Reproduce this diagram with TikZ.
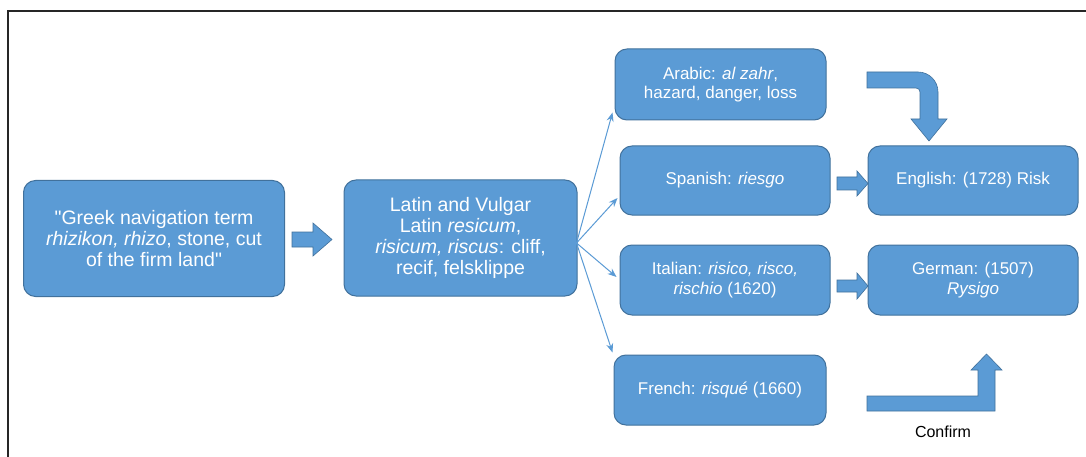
\documentclass[tikz,border=0pt]{standalone}
\usepackage{fontspec}
\setmainfont{Liberation Sans}[Ligatures=TeXOff]
\usetikzlibrary{calc,arrows.meta}
\definecolor{boxblue}{HTML}{5B9BD5}
\definecolor{boxedge}{HTML}{41719C}
\tikzset{
  termbox/.style={draw=boxedge, line width=1pt, fill=boxblue, rounded corners=12pt,
    text=white, align=center, inner sep=0pt, font=\fontsize{17}{19.5}\selectfont},
  bigbox/.style={termbox, font=\fontsize{19.5}{21}\selectfont},
  thinarrow/.style={draw=boxblue, line width=1pt, -{Stealth[length=9pt,width=7pt]}},
  blockarrow/.style={fill=boxblue, draw=boxedge, line width=0.6pt, line join=miter}
}
\begin{document}
\begin{tikzpicture}[x=1pt,y=-1pt]
\path[use as bounding box] (0,0) rectangle (1086,457);
\fill[white] (0,0) rectangle (1086,457);
\begin{scope}
\clip (0,0) rectangle (1086,457);
\draw[line width=1.3pt, black!85] (8,470) -- (8,11) -- (1100,11);
\end{scope}

% boxes
\node[bigbox, minimum width=261pt, minimum height=116pt] (gre) at (154,238.5)
  {"Greek navigation term\\ \textit{rhizikon, rhizo}, stone, cut\\ of the firm land"};
\node[bigbox, minimum width=233pt, minimum height=116pt] (lat) at (460.5,238)
  {Latin and Vulgar\\ Latin \textit{resicum},\\ \textit{risicum, riscus}: cliff,\\ recif, felsklippe};
\node[termbox, minimum width=211pt, minimum height=71pt] (ara) at (720.5,84.5)
  {Arabic: \textit{al zahr},\\ hazard, danger, loss};
\node[termbox, minimum width=210pt, minimum height=69pt] (spa) at (725,180.5)
  {Spanish: \textit{riesgo}};
\node[termbox, minimum width=210pt, minimum height=69pt] (eng) at (973,180.5)
  {English: (1728) Risk};
\node[termbox, minimum width=210pt, minimum height=70pt] (ita) at (725,280)
  {Italian: \textit{risico, risco,}\\ \textit{rischio} (1620)};
\node[termbox, minimum width=210pt, minimum height=70pt] (ger) at (973,280)
  {German: (1507)\\ \textit{Rysigo}};
\node[termbox, minimum width=212pt, minimum height=70pt] (fre) at (720,390)
  {French: \textit{risqué} (1660)};

% thin arrows from Latin box
\coordinate (org) at ($(lat.east)+(-1,5)$);
\draw[thinarrow] (org) -- ($(ara.south west)+(-2,-8)$);
\draw[thinarrow] (org) -- ($(spa.west)+(-2,17.5)$);
\draw[thinarrow] (org) -- ($(ita.west)+(-3,-3)$);
\draw[thinarrow] (org) -- ($(fre.north west)+(-1,-2)$);

% block arrows
\draw[blockarrow] (292,232) -- (313,232) -- (313,223) -- (332,239.5) -- (313,256) -- (313,247) -- (292,247) -- cycle;
\draw[blockarrow] (837,177) -- (857,177) -- (857,171) -- (868,183.5) -- (857,196) -- (857,190) -- (837,190) -- cycle;
\draw[blockarrow] (837,280) -- (857,280) -- (857,273) -- (868,286) -- (857,299) -- (857,292) -- (837,292) -- cycle;

% bent arrow (Arabic -> English)
\draw[blockarrow] (867,72) -- (918,72) arc[start angle=-90, end angle=0, radius=20] -- (938,119)
  -- (947,119) -- (929,141) -- (911,119) -- (920,119) -- (920,92)
  arc[start angle=0, end angle=-90, radius=4] -- (867,88) -- cycle;

% bent arrow (Confirm)
\draw[blockarrow] (867,396) -- (978,396) -- (978,370) -- (971,370) -- (986.5,354) -- (1002,370)
  -- (995,370) -- (995,411) -- (867,411) -- cycle;
\node[font=\fontsize{16}{18}\selectfont, text=black] (conf) at (943,432) {Confirm};
\end{tikzpicture}
\end{document}
